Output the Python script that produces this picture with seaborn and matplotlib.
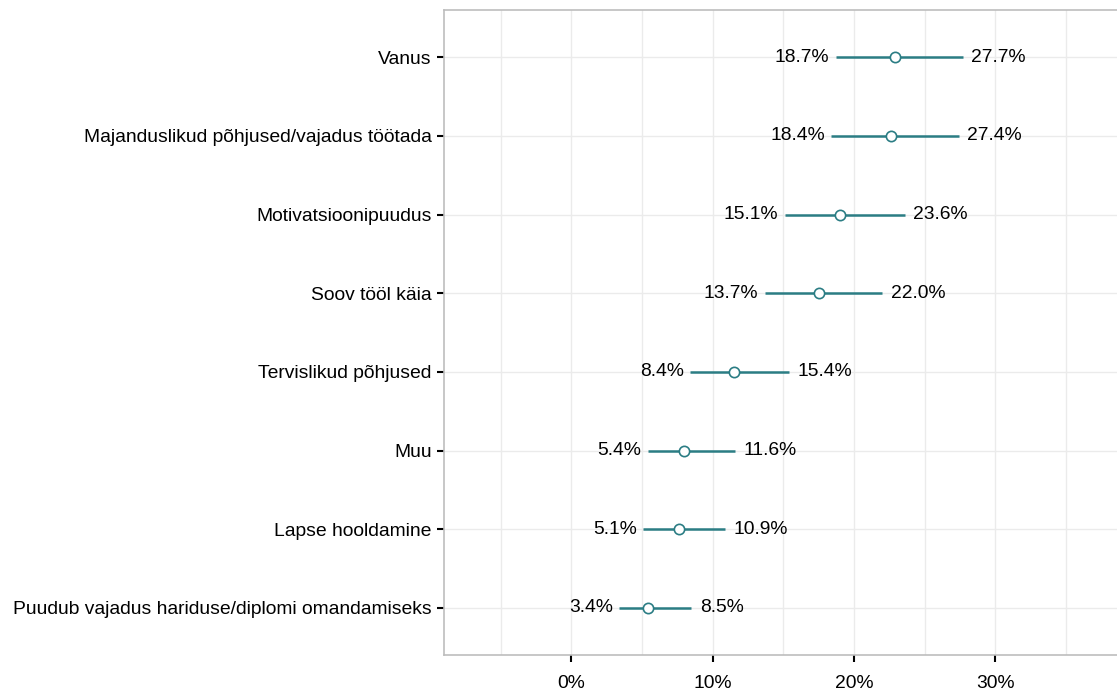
import pandas as pd
import matplotlib.pyplot as plt
import seaborn as sns

categories = [
    "Vanus",
    "Majanduslikud põhjused/vajadus töötada",
    "Motivatsioonipuudus",
    "Soov tööl käia",
    "Tervislikud põhjused",
    "Muu",
    "Lapse hooldamine",
    "Puudub vajadus hariduse/diplomi omandamiseks",
]
estimate = [22.9, 22.6, 19.0, 17.5, 11.5, 8.0, 7.6, 5.4]
lower = [18.7, 18.4, 15.1, 13.7, 8.4, 5.4, 5.1, 3.4]
upper = [27.7, 27.4, 23.6, 22.0, 15.4, 11.6, 10.9, 8.5]
xticks = [0, 10, 20, 30]
xticklabels = ["0%", "10%", "20%", "30%"]

df = pd.DataFrame({"kategooria": categories, "hinnang": estimate,
                   "alum": lower, "ulem": upper})
df["pos"] = range(len(df))

sns.set_theme(style="white")
plt.rcParams["font.family"] = ["Liberation Sans", "DejaVu Sans"]

teal = "#2b7d84"
fs = 13.9
fig = plt.figure(figsize=(11.17, 6.91), dpi=100)
ax = fig.add_axes([0.3975, 0.052, 0.6025, 0.9335])

# grid: major + minor, theme_bw style
for x in [-5, 0, 5, 10, 15, 20, 25, 30, 35]:
    ax.axvline(x, color="#ebebeb", lw=1, zorder=0)
for y in df["pos"]:
    ax.axhline(y, color="#ebebeb", lw=1, zorder=0)

ax.hlines(df["pos"], df["alum"], df["ulem"], color=teal, lw=1.8, zorder=2)
sns.scatterplot(data=df, x="hinnang", y="pos", ax=ax, s=55, color="white",
                edgecolor=teal, linewidth=1.2, zorder=3, legend=False)

for _, r in df.iterrows():
    ax.text(r["alum"] - 0.45, r["pos"], f"{r['alum']:.1f}%", ha="right",
            va="center", fontsize=fs, color="black")
    ax.text(r["ulem"] + 0.6, r["pos"], f"{r['ulem']:.1f}%", ha="left",
            va="center", fontsize=fs, color="black")

ax.set_xlim(-9, 38.6)
ax.set_ylim(len(df) - 0.4, -0.6)
ax.set_yticks(df["pos"])
ax.set_yticklabels(categories)
ax.set_xticks(xticks)
ax.set_xticklabels(xticklabels)
ax.set_xlabel("")
ax.set_ylabel("")
ax.tick_params(axis="both", labelsize=fs, colors="black", labelcolor="black",
               length=5, width=1.5, direction="out", left=True, bottom=True)
ax.tick_params(axis="y", pad=4)
ax.tick_params(axis="x", pad=9)

for side in ["left", "top", "bottom"]:
    ax.spines[side].set_color("#bdbdbd")
    ax.spines[side].set_linewidth(1.2)
ax.spines["right"].set_visible(False)

fig.savefig("out.png", dpi=100)
